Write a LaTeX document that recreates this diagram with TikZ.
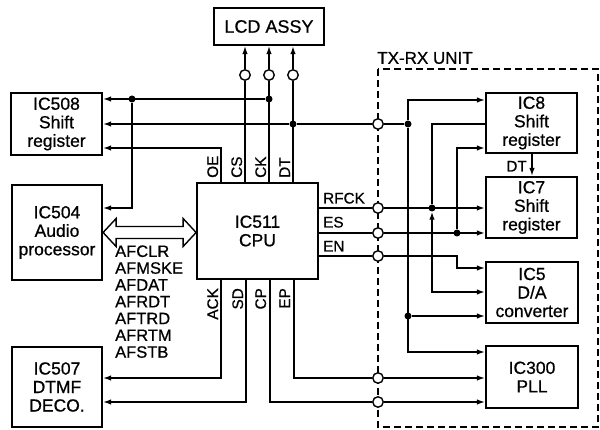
\documentclass[tikz,border=0pt]{standalone}
\usepackage{fontspec}
\setmainfont{Liberation Sans}
\usetikzlibrary{arrows.meta}
\newcommand\fBox{\fontsize{17.5}{18.5}\selectfont}
\newcommand\fPin{\fontsize{15.3}{16}\selectfont}
\newcommand\fAF{\fontsize{16.5}{16.8}\selectfont}
\newcommand\fBig{\fontsize{18}{20}\selectfont}
\newcommand\fUnit{\fontsize{17}{18}\selectfont}
\newfontfamily\hvb{Liberation Sans}[BoldFont={Liberation Sans}, BoldFeatures={FakeBold=0.7}]
\newcommand\hv{\hvb\bfseries}
\begin{document}
\begin{tikzpicture}[x=1pt,y=-1pt,
  every node/.style={font=\hv},
  blk/.style={draw, line width=2.2pt, align=center, inner sep=0pt, font=\hv\fBox},
  wire/.style={line width=1.4pt},
  bold/.style={line width=2.1pt},
  arr/.style={-{Latex[length=8pt,width=5.5pt]}},
  arrb/.style={{Latex[length=8pt,width=5.5pt]}-{Latex[length=8pt,width=5.5pt]}},
  ocirc/.style={circle, draw, fill=white, line width=1.4pt, minimum size=10.5pt, inner sep=0pt},
  jdot/.style={circle, fill=black, minimum size=7pt, inner sep=0pt},
  pin/.style={font=\hv\fPin, inner sep=0pt},
]
\useasboundingbox (0,0) rectangle (600,430);
\fill[white] (0,0) rectangle (600,430);

% dashed unit frame
\draw[line width=1.7pt, dash pattern=on 7pt off 4pt] (378,69) rectangle (598,427);
\node[font=\hv\fUnit, inner sep=0pt] (unit) at (425,58) {TX-RX UNIT};

% blocks
\node[blk, font=\hv\fBig, minimum width=110pt, minimum height=37pt] (lcd) at (269,26.5) {LCD ASSY};
\node[blk, minimum width=91pt, minimum height=62pt] (ic508) at (56.5,124) {IC508\\Shift\\register};
\node[blk, minimum width=90pt, minimum height=95pt] (ic504) at (57,232.5) {IC504\\Audio\\processor};
\node[blk, minimum width=90pt, minimum height=80pt] (ic507) at (57,387) {IC507\\DTMF\\DECO.};
\node[blk, minimum width=121pt, minimum height=96pt] (cpu) at (257.5,231) {IC511\\CPU};
\node[blk, minimum width=91pt, minimum height=60pt] (ic8) at (531.5,123) {IC8\\Shift\\register};
\node[blk, minimum width=91pt, minimum height=61pt] (ic7) at (531.5,207.5) {IC7\\Shift\\register};
\node[blk, minimum width=92pt, minimum height=61pt] (ic5) at (532,292.5) {IC5\\D/A\\converter};
\node[blk, minimum width=92pt, minimum height=62pt] (ic300) at (532,377) {IC300\\PLL};

% open circles
\node[ocirc] (l1) at (245,75) {};
\node[ocirc] (l2) at (269,75) {};
\node[ocirc] (l3) at (293,75) {};
\node[ocirc] (b1) at (378,124) {};
\node[ocirc] (b2) at (378,208) {};
\node[ocirc] (b3) at (378,233) {};
\node[ocirc] (b4) at (378,256) {};
\node[ocirc] (b5) at (378,378) {};
\node[ocirc] (b6) at (378,402) {};

% junction dots
\node[jdot] (d1) at (132,99) {};
\node[jdot] (d2) at (269,99) {};
\node[jdot] (d3) at (293,124) {};
\node[jdot] (d4) at (408,124) {};
\node[jdot] (d5) at (432,208) {};
\node[jdot] (d6) at (457,233) {};
\node[jdot] (d7) at (408,316) {};

% CPU top pins to LCD
\draw[wire] (cpu.north -| l1) -- (l1);
\draw[wire,arr] (l1) -- (lcd.south -| l1);
\draw[wire] (cpu.north -| l2) -- (l2);
\draw[wire,arr] (l2) -- (lcd.south -| l2);
\draw[bold] (cpu.north -| l3) -- (l3);
\draw[bold,arr] (l3) -- (lcd.south -| l3);

% IC508 inputs
\draw[wire,arr] (d2) -- (ic508.east |- d2);
\draw[wire,arr] (d1) |- (ic504.east |- 0,208);
\draw[wire] (d4) -- (b1);
\draw[wire] (b1) -- (d3);
\draw[wire,arr] (d3) -- (ic508.east |- d3);
\draw[wire,arr] (cpu.north -| 221,0) |- (ic508.east |- 0,148);

% DT distribution in TX-RX unit
\draw[wire,arr] (d4) |- (ic8.west |- 0,100);
\draw[wire,arr] (d4) |- (ic300.west |- 0,352);
\draw[wire,arr] (d7) -- (ic5.west |- d7);

% RFCK
\draw[bold] (cpu.east |- b2) -- (b2);
\draw[bold,arr] (b2) -- (ic7.west |- b2);
\draw[line width=1.6pt,arrb] (ic8.west |- 0,124) -| (d5) |- (ic5.west |- 0,292);

% ES
\draw[bold] (cpu.east |- b3) -- (b3);
\draw[bold,arr] (b3) -- (ic7.west |- b3);
\draw[line width=1.6pt,arr] (d6) |- (ic8.west |- 0,148);

% EN
\draw[wire] (cpu.east |- b4) -- (b4);
\draw[wire,arr] (b4) -| (457,268) -- (ic5.west |- 0,268);

% CPU bottom pins
\draw[wire,arr] (cpu.south -| 221,0) |- (ic507.east |- 0,378);
\draw[wire,arr] (cpu.south -| 246,0) |- (ic507.east |- 0,402);
\draw[wire] (cpu.south -| 294,0) |- (b5);
\draw[wire,arr] (b5) -- (ic300.west |- b5);
\draw[wire] (cpu.south -| 270,0) |- (b6);
\draw[wire,arr] (b6) -- (ic300.west |- b6);

% DT between IC8 and IC7
\draw[wire,arr] (ic8.south -| 532,0) -- (ic7.north -| 532,0);
\node[pin, anchor=base east] (dtl) at (527,171.5) {DT};

% bus double arrow
\draw[line width=1.4pt, fill=white] (ic504.east) -- ++(13,-14) -- ++(0,8) -- ++(67,0) -- ++(0,-8) -- ++(13,14) -- ++(-13,14) -- ++(0,-8) -- ++(-67,0) -- ++(0,8) -- cycle;

% pin labels
\node[pin, rotate=90, anchor=base west] (oe) at (218,178) {OE};
\node[pin, rotate=90, anchor=base west] (cs) at (242,178) {CS};
\node[pin, rotate=90, anchor=base west] (ck) at (266,178) {CK};
\node[pin, rotate=90, anchor=base west] (dt) at (290,178) {DT};
\node[pin, rotate=90, anchor=base east] (ack) at (218,288) {ACK};
\node[pin, rotate=90, anchor=base east] (sd) at (243,288) {SD};
\node[pin, rotate=90, anchor=base east] (cp) at (266,288) {CP};
\node[pin, rotate=90, anchor=base east] (ep) at (290,288) {EP};
\node[pin, anchor=base west] (rfck) at (323,203.5) {RFCK};
\node[pin, anchor=base west] (es) at (323,227.5) {ES};
\node[pin, anchor=base west] (en) at (323,251.5) {EN};

% audio bus signals
\node[font=\hv\fAF, align=left, anchor=north west, inner sep=0pt] (af) at (115,245.2)
  {AFCLR\\AFMSKE\\AFDAT\\AFRDT\\AFTRD\\AFRTM\\AFSTB};
\end{tikzpicture}
\end{document}
